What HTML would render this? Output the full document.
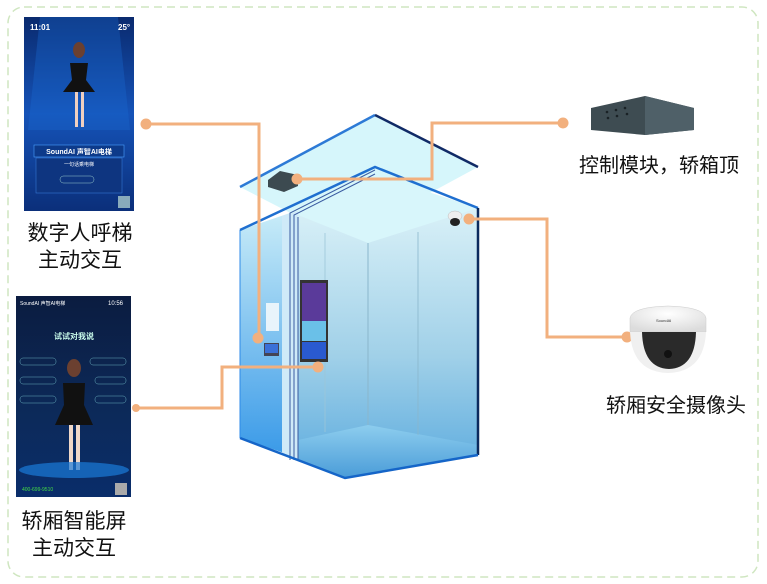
<!DOCTYPE html>
<html><head><meta charset="utf-8"><style>
body{margin:0;background:#fff;}
svg{display:block;font-family:"Liberation Sans","Noto Sans CJK SC",sans-serif;}
</style></head><body>
<svg width="767" height="584" viewBox="0 0 767 584" xmlns="http://www.w3.org/2000/svg">
<defs>
<linearGradient id="scr1" x1="0" y1="0" x2="0" y2="1"><stop offset="0" stop-color="#0a2a6e"/><stop offset=".5" stop-color="#1553b8"/><stop offset="1" stop-color="#0b2f7a"/></linearGradient>
<linearGradient id="scr2" x1="0" y1="0" x2="0" y2="1"><stop offset="0" stop-color="#0b1c40"/><stop offset=".6" stop-color="#0c2a5a"/><stop offset="1" stop-color="#0a2d6a"/></linearGradient>
<linearGradient id="lw" x1="0" y1="0" x2="0" y2="1"><stop offset="0" stop-color="#c8ecf8"/><stop offset="1" stop-color="#3a9ae8"/></linearGradient>
<linearGradient id="iw" x1="0" y1="0" x2="0" y2="1"><stop offset="0" stop-color="#e6f8fb"/><stop offset=".6" stop-color="#a0d0e8"/><stop offset="1" stop-color="#5aaade"/></linearGradient>
<linearGradient id="fl" x1="0" y1="0" x2="0" y2="1"><stop offset="0" stop-color="#8dcdee"/><stop offset="1" stop-color="#4a9cd8"/></linearGradient>
<radialGradient id="cam" cx=".5" cy=".3" r=".7"><stop offset="0" stop-color="#fff"/><stop offset="1" stop-color="#dcdcdc"/></radialGradient>
</defs>
<rect x="8" y="7" width="750" height="570" rx="16" fill="none" stroke="#cfe6c0" stroke-width="1.5" stroke-dasharray="8,5"/>

<rect x="24" y="17" width="110" height="194" fill="url(#scr1)"/>
<polygon points="40,17 118,17 130,130 28,130" fill="#1a6ad0" opacity=".35"/>
<text x="30" y="30" font-size="8" fill="#fff" font-weight="bold">11:01</text>
<text x="118" y="30" font-size="8" fill="#fff" font-weight="bold">25°</text>
<ellipse cx="79" cy="50" rx="6" ry="8" fill="#6b4030"/>
<path d="M70,63 L88,63 L86,80 L95,92 L63,92 L72,80 Z" fill="#111"/>
<rect x="75" y="92" width="3" height="35" fill="#f0d0c0"/><rect x="81" y="92" width="3" height="35" fill="#f0d0c0"/>
<rect x="34" y="145" width="90" height="12" fill="#0d3a8a" stroke="#4aa0ff" stroke-width=".6"/>
<text x="79" y="154" font-size="7" fill="#fff" text-anchor="middle" font-weight="bold">SoundAI 声智AI电梯</text>
<rect x="36" y="158" width="86" height="35" fill="#0e3580" stroke="#3a80e0" stroke-width=".5"/>
<text x="79" y="166" font-size="5" fill="#fff" text-anchor="middle">一句话乘电梯</text>
<rect x="60" y="176" width="34" height="7" rx="3.5" fill="none" stroke="#9cc" stroke-width=".5"/>
<rect x="118" y="196" width="12" height="12" fill="#8ab"/>
<text x="80" y="240" font-size="21" fill="#111" text-anchor="middle">数字人呼梯</text>
<text x="80" y="267" font-size="21" fill="#111" text-anchor="middle">主动交互</text>

<rect x="16" y="296" width="115" height="201" fill="url(#scr2)"/>
<text x="20" y="305" font-size="5" fill="#fff">SoundAI 声智AI电梯</text>
<text x="108" y="305" font-size="6" fill="#fff">10:56</text>
<text x="74" y="339" font-size="8" fill="#cfe" text-anchor="middle" font-weight="bold">试试对我说</text>
<g fill="none" stroke="#6ab" stroke-width=".5">
<rect x="20" y="358" width="36" height="7" rx="3"/><rect x="90" y="358" width="36" height="7" rx="3"/>
<rect x="20" y="377" width="36" height="7" rx="3"/><rect x="95" y="377" width="31" height="7" rx="3"/>
<rect x="20" y="396" width="36" height="7" rx="3"/><rect x="95" y="396" width="31" height="7" rx="3"/>
</g>
<ellipse cx="74" cy="368" rx="7" ry="9" fill="#6b4030"/>
<path d="M63,383 L85,383 L84,405 L93,425 L55,425 L64,405 Z" fill="#111"/>
<rect x="69" y="425" width="4" height="45" fill="#f0d8c8"/><rect x="76" y="425" width="4" height="45" fill="#f0d8c8"/>
<ellipse cx="74" cy="470" rx="55" ry="8" fill="#1a7ad8" opacity=".7"/>
<text x="22" y="491" font-size="5" fill="#4d4">400-699-9510</text>
<rect x="115" y="483" width="12" height="12" fill="#aaa"/>
<text x="74" y="528" font-size="21" fill="#111" text-anchor="middle">轿厢智能屏</text>
<text x="74" y="555" font-size="21" fill="#111" text-anchor="middle">主动交互</text>

<polygon points="240,187 375,115 478,167 343,240" fill="#d6f6fb"/>
<polyline points="240,187 375,115" stroke="#2d7ad6" stroke-width="2.5" fill="none"/>
<polyline points="375,115 478,167" stroke="#102a66" stroke-width="2.5" fill="none"/>
<polygon points="240,230 290,213 290,455 240,438" fill="url(#lw)"/>
<polygon points="282,216 298,211 298,460 282,455" fill="#cfeaf8"/>
<polygon points="298,215 375,175 478,208 478,455 345,478 298,460" fill="url(#iw)"/>
<polygon points="298,215 375,175 478,208 368,243" fill="#d8f6fb"/>
<polygon points="298,440 368,425 478,445 478,455 345,478 298,460" fill="url(#fl)"/>
<line x1="368" y1="243" x2="368" y2="425" stroke="#8ab6cc" stroke-width="1"/>
<line x1="325" y1="233" x2="325" y2="432" stroke="#9cc6d8" stroke-width=".8"/>
<line x1="418" y1="232" x2="418" y2="435" stroke="#8ab6cc" stroke-width=".8"/>
<g stroke="#3a5aa0" stroke-width="1" fill="none">
<polyline points="290,460 290,213 375,170"/><polyline points="294,460 294,215 375,174"/><polyline points="298,460 298,217"/>
</g>
<polyline points="240,230 375,167 478,208" stroke="#1f6fd0" stroke-width="2.5" fill="none"/>
<line x1="478" y1="208" x2="478" y2="455" stroke="#0b2a5e" stroke-width="2.5"/>
<polyline points="240,438 345,478 478,455" stroke="#1565c8" stroke-width="2.5" fill="none"/>
<line x1="240" y1="230" x2="240" y2="438" stroke="#2d8ae8" stroke-width="1"/>
<rect x="266" y="303" width="13" height="28" fill="#e8f4fb"/>
<rect x="264" y="343" width="15" height="13" fill="#445"/><rect x="265" y="344" width="13" height="9" fill="#3a70d8"/>
<rect x="300" y="280" width="28" height="82" fill="#333"/>
<rect x="302" y="283" width="24" height="38" fill="#5a3a9a"/>
<rect x="302" y="321" width="24" height="20" fill="#6ac0e8"/>
<rect x="302" y="342" width="24" height="17" fill="#2a5ad0"/>
<polygon points="268,180 280,171 298,175 298,186 284,192 268,187" fill="#3c4a50"/>
<ellipse cx="455" cy="216" rx="7" ry="5" fill="#eee" stroke="#bbb" stroke-width=".5"/><ellipse cx="455" cy="222" rx="5" ry="4" fill="#222"/>

<g stroke="#f2b07e" stroke-width="3" fill="none">
<polyline points="146,124 259,124 259,338"/>
<polyline points="136,408 222,408 222,367 318,367"/>
<polyline points="297,179 432,179 432,123 563,123"/>
<polyline points="468,219 547,219 547,337 627,337"/>
</g>
<g fill="#f2b07e">
<circle cx="146" cy="124" r="5.5"/><circle cx="258" cy="338" r="5.5"/>
<circle cx="136" cy="408" r="4"/><circle cx="318" cy="367" r="5.5"/>
<circle cx="297" cy="179" r="5.5"/><circle cx="563" cy="123" r="5.5"/>
<circle cx="469" cy="219" r="5.5"/><circle cx="627" cy="337" r="5.5"/>
</g>

<polygon points="591,108 645,96 694,108 694,130 645,135 591,130" fill="#3e4c52"/>
<polygon points="645,96 694,108 694,130 645,135" fill="#4f6068"/>
<g fill="#1a2226"><circle cx="607" cy="112" r="1.3"/><circle cx="616" cy="110" r="1.3"/><circle cx="625" cy="108" r="1.3"/><circle cx="608" cy="118" r="1.3"/><circle cx="617" cy="116" r="1.3"/><circle cx="627" cy="114" r="1.3"/></g>
<text x="579" y="172" font-size="20" fill="#111">控制模块，轿箱顶</text>

<path d="M630,318 Q632,307 668,306 Q704,307 706,318 L706,332 L630,332 Z" fill="url(#cam)" stroke="#ccc" stroke-width=".5"/>
<path d="M630,332 L706,332 Q704,372 668,373 Q632,372 630,332 Z" fill="#f0f0f0"/>
<path d="M642,332 Q643,368 669,369 Q695,368 696,332 Z" fill="#2a2a2a"/>
<circle cx="668" cy="354" r="4" fill="#111"/>
<text x="656" y="322" font-size="4" fill="#333">SoundAI</text>
<text x="606" y="412" font-size="20" fill="#111">轿厢安全摄像头</text>
</svg>
</body></html>
